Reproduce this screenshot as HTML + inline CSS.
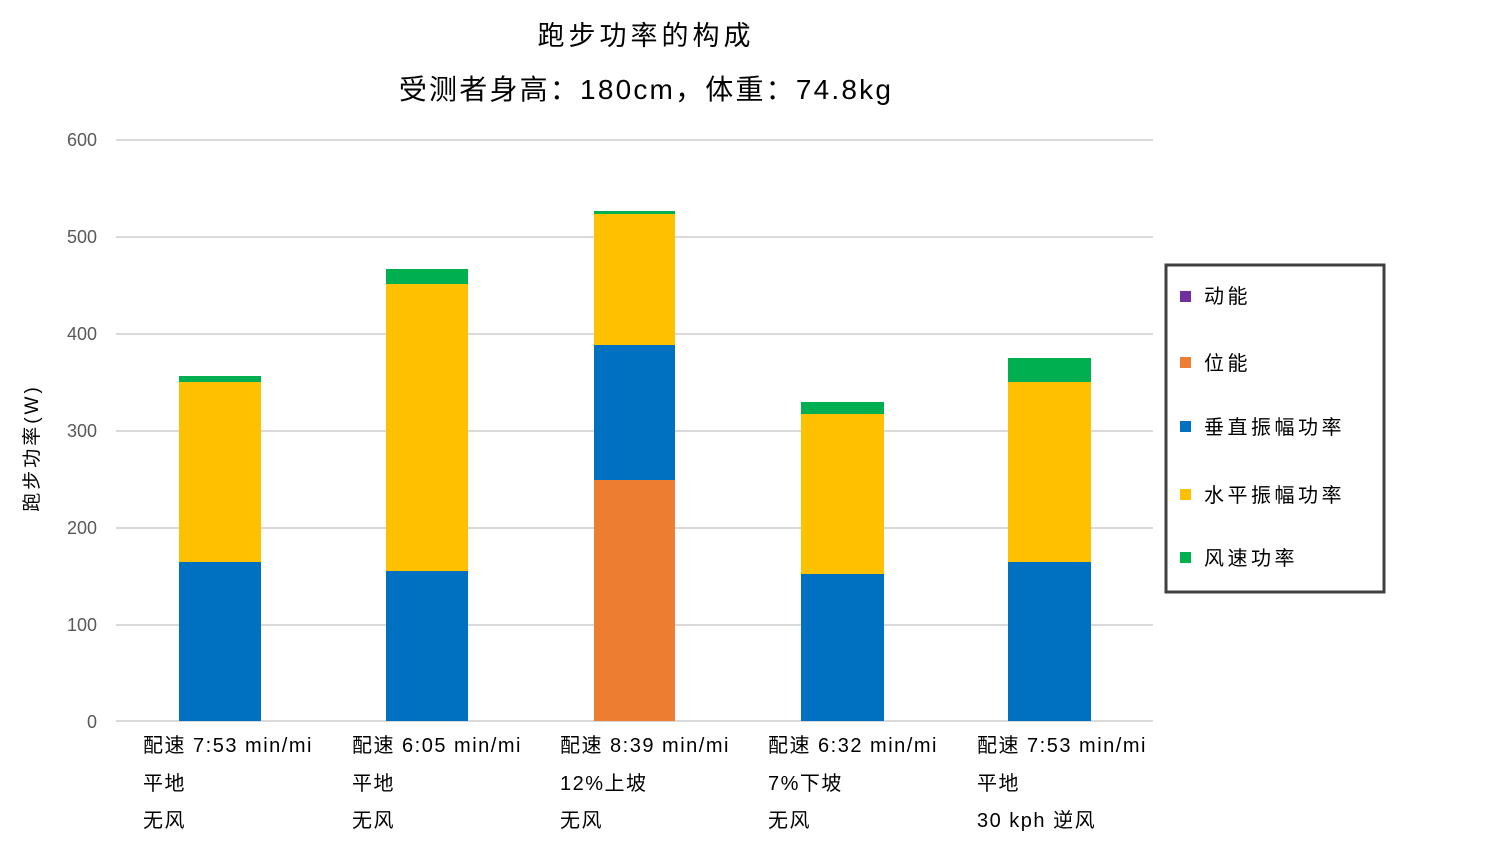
<!DOCTYPE html>
<html><head><meta charset="utf-8"><style>
body{margin:0;background:#fff;}
svg text{font-family:"Liberation Sans","Noto Sans CJK SC",sans-serif;}
</style></head><body>
<svg width="1500" height="845" xmlns="http://www.w3.org/2000/svg">
<rect width="1500" height="845" fill="#fff"/>
<text x="646" y="45" font-size="27" text-anchor="middle" fill="#000" letter-spacing="4">跑步功率的构成</text>
<text x="646" y="99" font-size="28" text-anchor="middle" fill="#000" letter-spacing="2.2">受测者身高：180cm，体重：74.8kg</text>
<g stroke="#d9d9d9" stroke-width="2">
<line x1="116" x2="1153" y1="140" y2="140"/>
<line x1="116" x2="1153" y1="237" y2="237"/>
<line x1="116" x2="1153" y1="334" y2="334"/>
<line x1="116" x2="1153" y1="431" y2="431"/>
<line x1="116" x2="1153" y1="528" y2="528"/>
<line x1="116" x2="1153" y1="625" y2="625"/>
<line x1="116" x2="1153" y1="721" y2="721"/>
</g>
<g font-size="18" fill="#595959" text-anchor="end">
<text x="97" y="146">600</text><text x="97" y="243">500</text><text x="97" y="340">400</text>
<text x="97" y="437">300</text><text x="97" y="534">200</text><text x="97" y="631">100</text><text x="97" y="728">0</text>
</g>
<text transform="translate(38,448) rotate(-90)" font-size="19" text-anchor="middle" fill="#000" letter-spacing="3">跑步功率(W)</text>
<rect x="179" y="562" width="82" height="159" fill="#0070c0"/>
<rect x="179" y="382" width="82" height="180" fill="#ffc000"/>
<rect x="179" y="376" width="82" height="6" fill="#00b050"/>
<rect x="386" y="571" width="82" height="150" fill="#0070c0"/>
<rect x="386" y="284" width="82" height="287" fill="#ffc000"/>
<rect x="386" y="269" width="82" height="15" fill="#00b050"/>
<rect x="594" y="480" width="81" height="241" fill="#ed7d31"/>
<rect x="594" y="345" width="81" height="135" fill="#0070c0"/>
<rect x="594" y="214" width="81" height="131" fill="#ffc000"/>
<rect x="594" y="211" width="81" height="3" fill="#00b050"/>
<rect x="801" y="574" width="83" height="147" fill="#0070c0"/>
<rect x="801" y="414" width="83" height="160" fill="#ffc000"/>
<rect x="801" y="402" width="83" height="12" fill="#00b050"/>
<rect x="1008" y="562" width="83" height="159" fill="#0070c0"/>
<rect x="1008" y="382" width="83" height="180" fill="#ffc000"/>
<rect x="1008" y="358" width="83" height="24" fill="#00b050"/>
<g font-size="20" fill="#000" letter-spacing="1.5">
<text x="143" y="752">配速 7:53 min/mi</text><text x="143" y="790">平地</text><text x="143" y="827">无风</text>
<text x="352" y="752">配速 6:05 min/mi</text><text x="352" y="790">平地</text><text x="352" y="827">无风</text>
<text x="560" y="752">配速 8:39 min/mi</text><text x="560" y="790">12%上坡</text><text x="560" y="827">无风</text>
<text x="768" y="752">配速 6:32 min/mi</text><text x="768" y="790">7%下坡</text><text x="768" y="827">无风</text>
<text x="977" y="752">配速 7:53 min/mi</text><text x="977" y="790">平地</text><text x="977" y="827">30 kph 逆风</text>
</g>
<rect x="1166" y="265" width="218" height="327" fill="#fff" stroke="#404040" stroke-width="3"/>
<g font-size="20" fill="#000" letter-spacing="3.5">
<rect x="1180" y="291" width="11" height="11" fill="#7030a0"/><text x="1204" y="303">动能</text>
<rect x="1180" y="357" width="11" height="11" fill="#ed7d31"/><text x="1204" y="370">位能</text>
<rect x="1180" y="421" width="11" height="11" fill="#0070c0"/><text x="1204" y="434">垂直振幅功率</text>
<rect x="1180" y="489" width="11" height="11" fill="#ffc000"/><text x="1204" y="502">水平振幅功率</text>
<rect x="1180" y="552" width="11" height="11" fill="#00b050"/><text x="1204" y="565">风速功率</text>
</g>
</svg>
</body></html>
